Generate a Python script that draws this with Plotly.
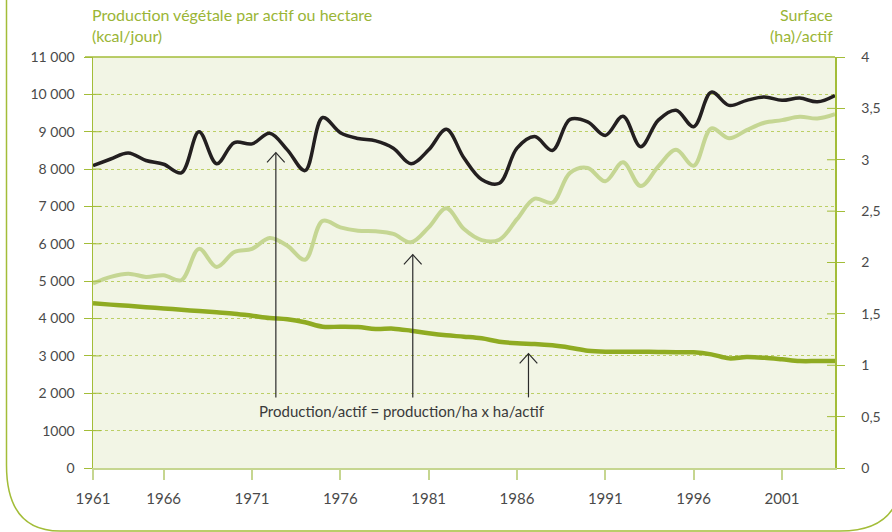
import plotly.graph_objects as go

# years on the x axis
years = list(range(1961, 2004))

# production vegetale par actif (kcal/jour)
prod_actif = [8090, 8270, 8430, 8230, 8130, 7900, 9000, 8145, 8710, 8675,
              8960, 8515, 7960, 9380, 8975, 8820, 8755, 8560, 8145, 8515,
              9065, 8295, 7720, 7620, 8560, 8870, 8500, 9330, 9265, 8900,
              9415, 8600, 9310, 9575, 9135, 10060, 9705, 9840, 9930, 9840,
              9900, 9800, 9970]

# production vegetale par hectare (kcal/jour)
prod_ha = [4940, 5115, 5200, 5115, 5160, 5025, 5865, 5380, 5780, 5865,
           6155, 5950, 5575, 6615, 6440, 6350, 6335, 6265, 6040, 6440,
           6950, 6395, 6100, 6110, 6660, 7210, 7100, 7900, 8030, 7675,
           8180, 7545, 8075, 8515, 8090, 9090, 8825, 9045, 9240, 9310,
           9400, 9355, 9470]

# surface (ha) par actif
surface_actif = [1.603, 1.590, 1.578, 1.565, 1.553, 1.540, 1.528, 1.515, 1.502, 1.482,
                 1.460, 1.447, 1.418, 1.375, 1.375, 1.372, 1.353, 1.356, 1.336, 1.311,
                 1.291, 1.278, 1.262, 1.229, 1.213, 1.207, 1.194, 1.171, 1.142, 1.132,
                 1.132, 1.132, 1.129, 1.126, 1.126, 1.106, 1.067, 1.080, 1.073, 1.058,
                 1.041, 1.041, 1.041]

x_tick_vals = [1961, 1965, 1970, 1975, 1980, 1985, 1990, 1995, 2000]
x_tick_text = ["1961", "1966", "1971", "1976", "1981", "1986", "1991", "1996", "2001"]

left_tick_vals = [0, 1000, 2000, 3000, 4000, 5000, 6000, 7000, 8000, 9000, 10000, 11000]
left_tick_text = ["0", "1000", "2 000", "3 000", "4 000", "5 000", "6 000", "7 000",
                  "8 000", "9 000", "10 000", "11 000"]

right_tick_vals = [0, 0.5, 1, 1.5, 2, 2.5, 3, 3.5, 4]
right_tick_text = ["0", "0,5", "1", "1,5", "2", "2,5", "3", "3,5", "4"]

GREEN = "#a3bd38"
LIGHT_AXIS = "#c6d690"
TEXT = "#4a4a4a"
FONT = "Lato"

W, H = 892, 532
L, R, T, B = 93, 835, 57, 468


def px_to_paper(x, y):
    return (x - L) / (R - L), (B - y) / (B - T)


fig = go.Figure()

fig.add_trace(go.Scatter(
    x=years, y=prod_ha, mode="lines", line=dict(color="#c5d693", width=4, shape="spline"),
    name="Production/ha",
))
fig.add_trace(go.Scatter(
    x=years, y=prod_actif, mode="lines", line=dict(color="#231f20", width=3.5, shape="spline"),
    name="Production/actif",
))
fig.add_trace(go.Scatter(
    x=years, y=surface_actif, mode="lines", yaxis="y2",
    line=dict(color="#8fab22", width=4.5, shape="spline"), name="ha/actif",
))

shapes = []

# arrows pointing from the formula to each curve
for ax, tip in [(1971.35, 8440), (1979.1, 5710), (1985.65, 3060)]:
    shapes.append(dict(type="line", xref="x", yref="y", x0=ax, x1=ax, y0=1890, y1=tip,
                       line=dict(color="#2b2b2b", width=1.2)))
    shapes.append(dict(type="path", xref="x", yref="y",
                       path=f"M {ax - 0.5},{tip - 260} L {ax},{tip} L {ax + 0.5},{tip - 260}",
                       line=dict(color="#2b2b2b", width=1.2)))

# short tick marks inside the plot (ticks cross the axes)
for v in left_tick_vals[1:-1]:
    shapes.append(dict(type="line", xref="paper", yref="y", x0=0, x1=8 / (R - L), y0=v, y1=v,
                       line=dict(color=GREEN, width=1)))
for v in right_tick_vals[1:-1]:
    shapes.append(dict(type="line", xref="paper", yref="y2", x0=1 - 8 / (R - L), x1=1, y0=v, y1=v,
                       line=dict(color=GREEN, width=1)))

# top border of the plot area
shapes.append(dict(type="line", xref="paper", yref="paper", x0=-8 / (R - L), x1=1, y0=1, y1=1,
                   line=dict(color=GREEN, width=1.5)))

# rounded frame round the figure
pts = [(6.5, -5), (6.5, 465), (6.5, 531), (60, 531), (840, 531), (892, 531), (900, 490)]
p = [px_to_paper(*q) for q in pts]
frame = (f"M {p[0][0]},{p[0][1]} L {p[1][0]},{p[1][1]} Q {p[2][0]},{p[2][1]} {p[3][0]},{p[3][1]} "
         f"L {p[4][0]},{p[4][1]} Q {p[5][0]},{p[5][1]} {p[6][0]},{p[6][1]}")
shapes.append(dict(type="path", xref="paper", yref="paper", path=frame,
                   line=dict(color=GREEN, width=1.5)))

fig.update_layout(
    width=W, height=H,
    margin=dict(l=L, r=W - R, t=T, b=H - B),
    paper_bgcolor="white",
    plot_bgcolor="#f2f5e5",
    showlegend=False,
    hovermode=False,
    font=dict(family=FONT, size=14, color=TEXT),
    shapes=shapes,
    xaxis=dict(
        range=[1961, 2003], tickvals=x_tick_vals, ticktext=x_tick_text, automargin=False,
        showgrid=False, zeroline=False, showline=True, linecolor=LIGHT_AXIS, linewidth=2,
        ticks="outside", ticklen=10, tickcolor=LIGHT_AXIS, tickwidth=2,
        tickfont=dict(family=FONT, size=15, color=TEXT), ticklabelstandoff=6,
    ),
    yaxis=dict(
        range=[0, 11000], tickvals=left_tick_vals, ticktext=left_tick_text, automargin=False,
        showgrid=True, gridcolor="#bccf66", griddash="dot", gridwidth=1,
        zeroline=False, showline=True, linecolor=GREEN, linewidth=1.5,
        ticks="outside", ticklen=8, tickcolor=GREEN, tickwidth=1,
        tickfont=dict(family=FONT, size=14, color=TEXT), ticklabelstandoff=6,
    ),
    yaxis2=dict(
        range=[0, 4], tickvals=right_tick_vals, ticktext=right_tick_text, automargin=False,
        overlaying="y", side="right", showgrid=False, zeroline=False,
        showline=True, linecolor=GREEN, linewidth=1.5,
        ticks="outside", ticklen=8, tickcolor=GREEN, tickwidth=1,
        tickfont=dict(family=FONT, size=14, color=TEXT), ticklabelstandoff=14,
    ),
    annotations=[
        dict(text="Production végétale par actif ou hectare<br>(kcal/jour)",
             xref="paper", yref="paper", x=px_to_paper(90, 0)[0], y=px_to_paper(0, 47)[1],
             xanchor="left", yanchor="bottom", align="left", showarrow=False,
             font=dict(family=FONT, size=16, color="#9ab536")),
        dict(text="Surface<br>(ha)/actif",
             xref="paper", yref="paper", x=1, y=px_to_paper(0, 47)[1],
             xanchor="right", yanchor="bottom", align="right", showarrow=False,
             font=dict(family=FONT, size=16, color="#9ab536")),
        dict(text="Production/actif = production/ha x ha/actif",
             xref="x", yref="y", x=1978.5, y=1520, showarrow=False,
             font=dict(family=FONT, size=15, color="#3a3a3a")),
    ],
)

# the page body has a default 8px margin; remove it so the figure sits at the window corner
fig.write_html("out.html", config={"staticPlot": True},
               post_script="document.body.style.margin = '0';")
